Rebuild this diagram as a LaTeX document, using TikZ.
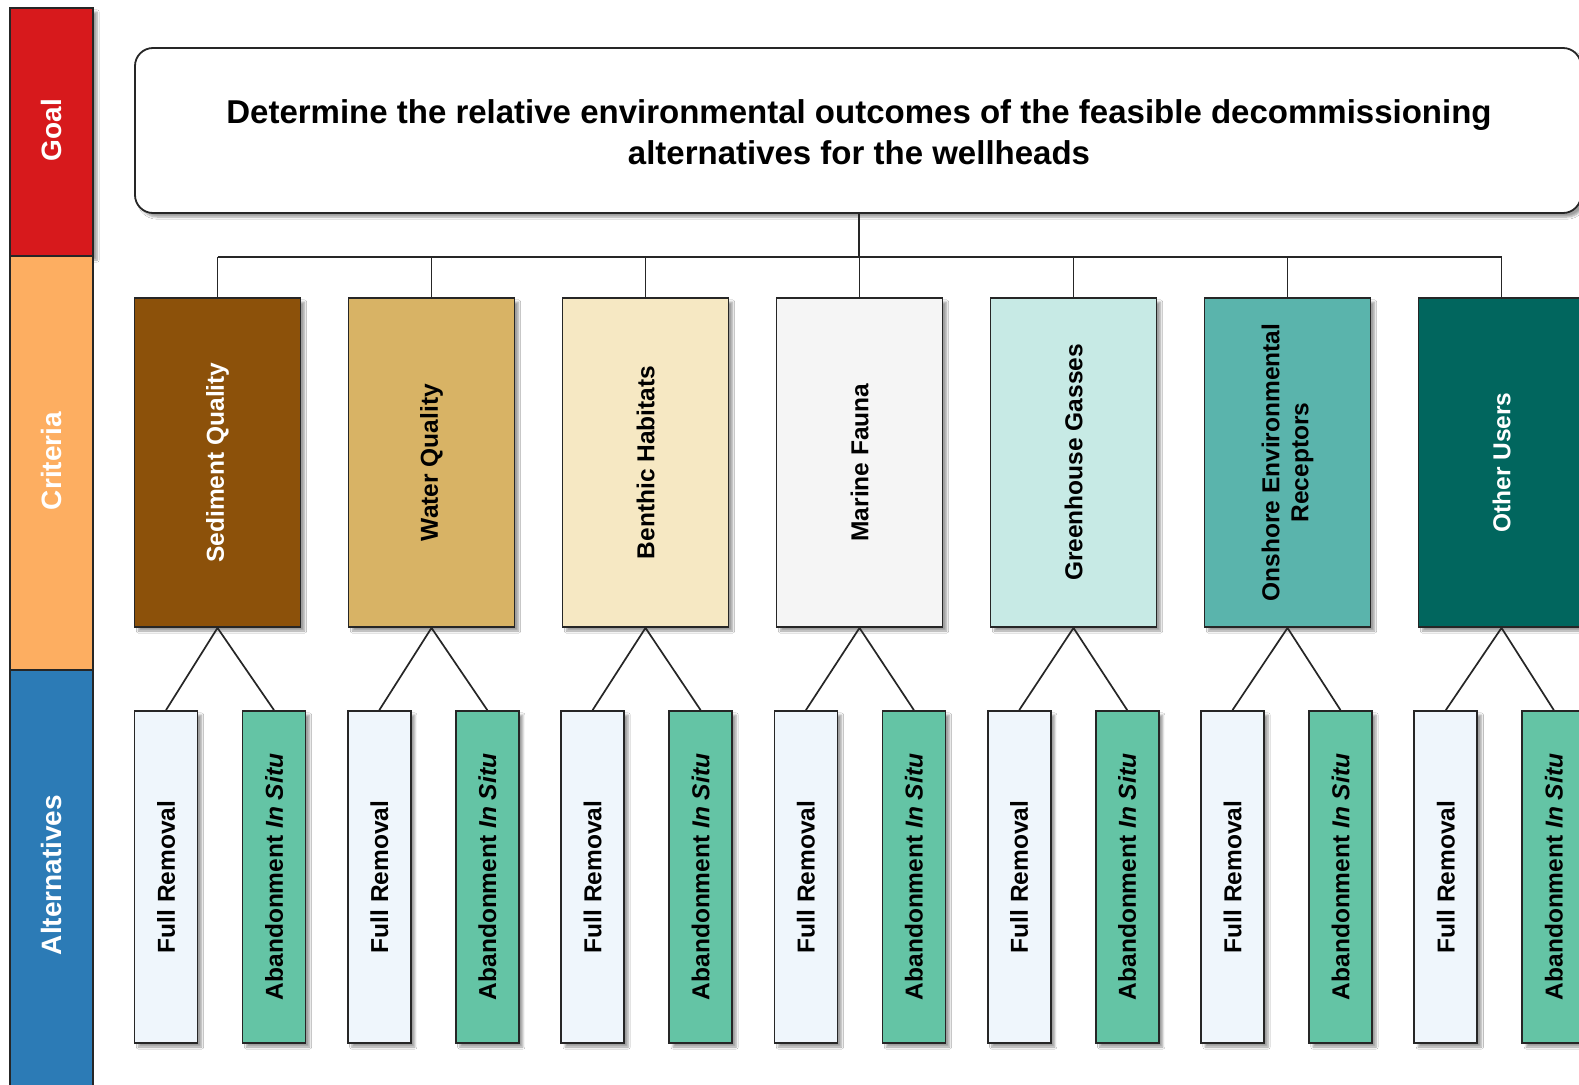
\documentclass[tikz,border=0pt]{standalone}
\usepackage{fontspec}
\setmainfont{Liberation Sans}
\usetikzlibrary{shadows.blur}

% band colours
\definecolor{bandgoal}{HTML}{D7191C}
\definecolor{bandcrit}{HTML}{FDAE61}
\definecolor{bandalt}{HTML}{2C7BB6}
% criteria colours
\definecolor{critA}{HTML}{8C510A}
\definecolor{critB}{HTML}{D8B365}
\definecolor{critC}{HTML}{F6E8C3}
\definecolor{critD}{HTML}{F5F5F5}
\definecolor{critE}{HTML}{C7EAE5}
\definecolor{critF}{HTML}{5AB4AC}
\definecolor{critG}{HTML}{01665E}
% alternative colours
\definecolor{altfull}{HTML}{EFF6FC}
\definecolor{altsitu}{HTML}{64C4A5}
\definecolor{edge}{HTML}{262626}

\begin{document}
\begin{tikzpicture}[x=1pt,y=-1pt,
  shade/.style={blur shadow={shadow xshift=4pt, shadow yshift=-4pt, shadow blur steps=6, shadow opacity=38}},
  band/.style={draw=edge, line width=1.5pt, minimum width=83pt, inner sep=0pt},
  bandtext/.style={rotate=90, text=white, font=\fontsize{28}{32}\selectfont\bfseries},
  goalbox/.style={draw=edge, line width=1.8pt, rounded corners=18pt, fill=white, shade,
    minimum width=1446pt, minimum height=165pt, inner sep=0pt},
  goaltext/.style={align=center, font=\fontsize{33}{41}\selectfont\bfseries},
  critbox/.style={draw=edge, line width=1.8pt, minimum width=166pt, minimum height=329pt, inner sep=0pt, shade},
  crittext/.style={rotate=90, align=center, font=\fontsize{24.5}{29}\selectfont\bfseries},
  altbox/.style={draw=edge, line width=1.8pt, minimum width=63pt, minimum height=332pt, inner sep=0pt, shade},
  alttext/.style={rotate=90, font=\fontsize{24.5}{29}\selectfont\bfseries},
  link/.style={draw=edge, line width=1.7pt}
]
\useasboundingbox (0,0) rectangle (1579,1084);
\fill[white] (0,0) rectangle (1579,1084);

% level bands on the left
\node[band, fill=bandgoal, minimum height=248pt, shade] (bgoal) at (51.5,132) {};
\node[band, fill=bandcrit, minimum height=414pt] (bcrit) at (51.5,463) {};
\node[band, fill=bandalt, minimum height=420pt] (balt) at (51.5,880) {};
\node[bandtext] at (51.5,130) {Goal};
\node[bandtext] at (51.5,461) {Criteria};
\node[bandtext] at (51.5,875) {Alternatives};

% goal
\node[goalbox] (goal) at (858,130.5) {};
\node[goaltext] at (859,132) {Determine the relative environmental outcomes of the feasible decommissioning\\alternatives for the wellheads};

% bus joining the goal to the criteria
\coordinate (busL) at (217.5,257);
\coordinate (busR) at (1501.5,257);
\coordinate (busM) at (859,257);
\draw[link] (goal.south -| busM) -- (busM);
\draw[link] (busL) -- (busR);

% criteria and their alternatives
\foreach \i/\col/\txt/\tc in {
  0/critA/{Sediment Quality}/white,
  1/critB/{Water Quality}/black,
  2/critC/{Benthic Habitats}/black,
  3/critD/{Marine Fauna}/black,
  4/critE/{Greenhouse Gasses}/black,
  5/critF/{Onshore Environmental\\Receptors}/black,
  6/critG/{Other Users}/white}{
  \pgfmathsetmacro{\cx}{217.5+214*\i}
  \pgfmathsetmacro{\fx}{166+213.3*\i}
  \pgfmathsetmacro{\ax}{\fx+108}
  \node[critbox, fill=\col] (c\i) at (\cx,462.5) {};
  \node[crittext, text=\tc] at (c\i) {\txt};
  \draw[link] (busL -| c\i) -- (c\i.north);
  \node[altbox, fill=altfull] (fr\i) at (\fx,877) {};
  \node[alttext] at (fr\i) {Full Removal};
  \node[altbox, fill=altsitu] (ab\i) at (\ax,877) {};
  \node[alttext] at (ab\i) {Abandonment \textit{In Situ}};
  \draw[link] (fr\i.north) -- (c\i.south) -- (ab\i.north);
}
\end{tikzpicture}
\end{document}
